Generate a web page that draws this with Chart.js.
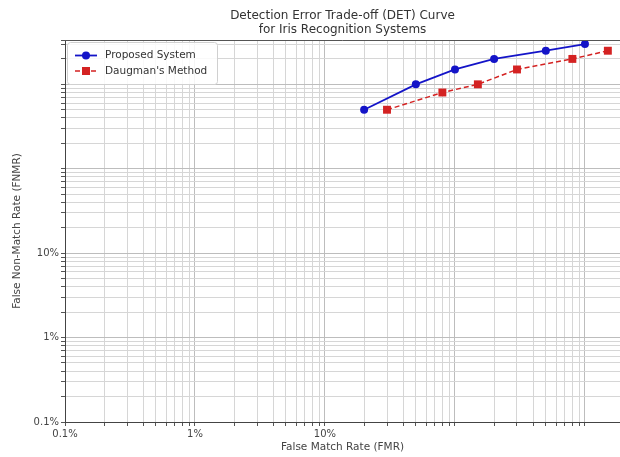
<!DOCTYPE html>
<html>
<head>
<meta charset="utf-8">
<script src="https://cdn.jsdelivr.net/npm/chart.js@4.4.0/dist/chart.umd.min.js"></script>
<style>
  html, body { margin: 0; padding: 0; background: #fff; }
  #wrap { width: 620px; height: 457px; }
</style>
</head>
<body>
<div id="wrap"><canvas id="det" width="620" height="457"></canvas></div>
<script>
/* DET curve - iris recognition comparison */
const proposedFmr  = [0.2, 0.5, 1, 2, 5, 10];
const proposedFnmr = [5, 10, 15, 20, 25, 30];
const daugmanFmr   = [0.3, 0.8, 1.5, 3, 8, 15];
const daugmanFnmr  = [5, 8, 10, 15, 20, 25];

const tickValues = [0.001, 0.01, 0.1];
const tickLabels = ['0.1%', '1%', '10%'];

const titleLines = ['Detection Error Trade-off (DET) Curve', 'for Iris Recognition Systems'];
const FONT = '"DejaVu Sans", sans-serif';

Chart.defaults.font.family = FONT;

function isDecade(v) { const l = Math.log10(v); return Math.abs(l - Math.round(l)) < 1e-6; }
function dropHalfSteps(scale) {
    // chart.js adds a 1.5 step in each decade, matplotlib doesn't
    scale.ticks = scale.ticks.filter(t => {
        const m = t.value / Math.pow(10, Math.floor(Math.log10(t.value) + 1e-9));
        return Math.abs(m - 1.5) > 1e-6;
    });
}
function tickLabel(value) {
    const i = tickValues.findIndex(t => Math.abs(t - value) / t < 1e-6);
    return i >= 0 ? tickLabels[i] : '';
}
const gridColor = ctx => ctx.tick && isDecade(ctx.tick.value) ? '#bdbdbd' : '#d6d6d6';

// title centred on the plot area + top spine
const frameTitle = {
    id: 'frameTitle',
    afterDraw(chart) {
        const {ctx, chartArea: a} = chart;
        ctx.save();
        ctx.strokeStyle = '#555'; ctx.lineWidth = 1;
        ctx.beginPath(); ctx.moveTo(a.left, a.top + 0.5); ctx.lineTo(a.right, a.top + 0.5); ctx.stroke();
        ctx.fillStyle = '#333'; ctx.font = `12px ${FONT}`;
        ctx.textAlign = 'center'; ctx.textBaseline = 'middle';
        titleLines.forEach((t, i) => ctx.fillText(t, (a.left + a.right) / 2, 16 + i * 14));
        ctx.restore();
    }
};

// matplotlib-style legend inside the upper-left corner
const insideLegend = {
    id: 'insideLegend',
    afterDraw(chart) {
        const {ctx, chartArea: a} = chart;
        const x = a.left + 2, y = a.top + 2, w = 150, h = 42;
        ctx.save();
        ctx.fillStyle = 'rgba(255,255,255,0.85)';
        ctx.strokeStyle = '#d0d0d0'; ctx.lineWidth = 1;
        ctx.beginPath(); ctx.roundRect(x + 0.5, y + 0.5, w, h, 3); ctx.fill(); ctx.stroke();
        ctx.font = `10.5px ${FONT}`; ctx.textBaseline = 'middle';
        chart.data.datasets.forEach((ds, i) => {
            const cy = y + 13.5 + i * 15.5;
            ctx.strokeStyle = ds.borderColor; ctx.lineWidth = ds.borderWidth;
            ctx.setLineDash(ds.borderDash || []);
            ctx.beginPath(); ctx.moveTo(x + 8, cy); ctx.lineTo(x + 30, cy); ctx.stroke();
            ctx.setLineDash([]);
            ctx.fillStyle = ds.backgroundColor;
            if (ds.pointStyle === 'rect') {
                ctx.fillRect(x + 19 - 4, cy - 4, 8, 8);
            } else {
                ctx.beginPath(); ctx.arc(x + 19, cy, 4, 0, Math.PI * 2); ctx.fill();
            }
            ctx.fillStyle = '#333';
            ctx.fillText(ds.label, x + 38, cy);
        });
        ctx.restore();
    }
};

new Chart(document.getElementById('det'), {
    type: 'line',
    data: {
        datasets: [
            { label: 'Proposed System', data: proposedFmr.map((x, i) => ({x, y: proposedFnmr[i]})),
              borderColor: '#1414c8', backgroundColor: '#1414c8', borderWidth: 1.8,
              pointStyle: 'circle', pointRadius: 4, pointBorderWidth: 0, tension: 0, clip: false },
            { label: "Daugman's Method", data: daugmanFmr.map((x, i) => ({x, y: daugmanFnmr[i]})),
              borderColor: '#d42222', backgroundColor: '#d42222', borderWidth: 1.5, borderDash: [5, 3],
              pointStyle: 'rect', pointRadius: 5.6, pointBorderWidth: 0, tension: 0, clip: false }
        ]
    },
    options: {
        responsive: false, animation: false,
        layout: { autoPadding: false, padding: { top: 40, left: 0, right: 0, bottom: 0 } },
        plugins: { legend: { display: false }, title: { display: false }, tooltip: { enabled: false } },
        scales: {
            x: {
                type: 'logarithmic', min: 0.001, max: 18.6,
                afterBuildTicks: dropHalfSteps,
                afterFit: s => { s.height = 35; s.paddingLeft = 0; s.paddingRight = 0; },
                grid: { color: gridColor, tickColor: '#555', tickLength: 4 },
                border: { color: '#444', width: 1 },
                ticks: { autoSkip: false, minRotation: 0, maxRotation: 0, padding: 2, color: '#444',
                         font: { size: 10 }, callback: tickLabel },
                title: { display: true, text: 'False Match Rate (FMR)', color: '#444',
                         font: { size: 10.5 }, padding: { top: 0, bottom: 3 } }
            },
            y: {
                type: 'logarithmic', min: 0.001, max: 33.5,
                afterBuildTicks: dropHalfSteps,
                afterFit: s => { s.width = 65; s.paddingTop = 0; s.paddingBottom = 0; },
                grid: { color: gridColor, tickColor: '#555', tickLength: 4 },
                border: { color: '#444', width: 1 },
                ticks: { autoSkip: false, padding: 2, color: '#444', font: { size: 10 }, callback: tickLabel },
                title: { display: true, text: 'False Non-Match Rate (FNMR)', color: '#444',
                         font: { size: 10.5 }, padding: { top: 11, bottom: 0 } }
            }
        }
    },
    plugins: [frameTitle, insideLegend]
});
</script>
</body>
</html>
